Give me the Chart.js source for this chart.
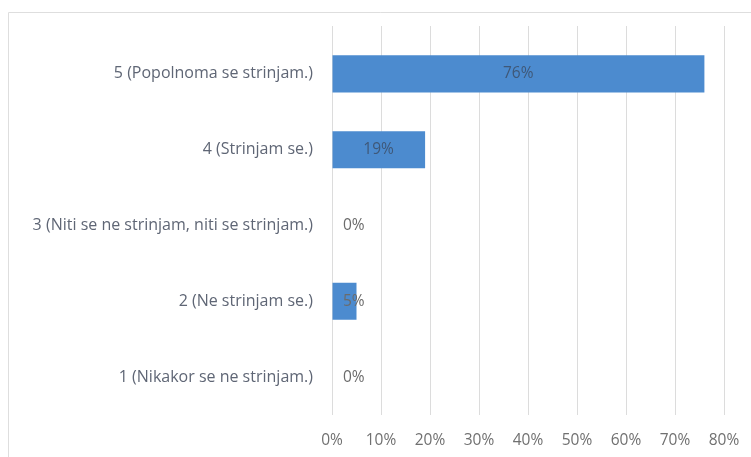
<!DOCTYPE html>
<html>
<head>
<meta charset="utf-8">
<script src="https://cdn.jsdelivr.net/npm/chart.js@4/dist/chart.umd.min.js"></script>
<style>
  html, body { margin: 0; padding: 0; background: #ffffff; }
  #wrap { width: 751px; height: 457px; position: relative; }
</style>
</head>
<body>
<div id="wrap"><canvas id="c" width="751" height="457"></canvas></div>
<script>
// Survey answers (top to bottom) and their share of responses, in percent
const categories = [
  '5 (Popolnoma se strinjam.)',
  '4 (Strinjam se.)',
  '3 (Niti se ne strinjam, niti se strinjam.)',
  '2 (Ne strinjam se.)',
  '1 (Nikakor se ne strinjam.)'
];
const shares = [76, 19, 0, 5, 0];
const axisMax = 80;
const axisStep = 10;

const FONT = '"Open Sans", "Noto Sans", sans-serif';
const GRID = '#dcdcdc';

// Light frame around the chart, plus the grid running a little above the plot
const framePlugin = {
  id: 'frame',
  beforeDraw(chart) {
    const ctx = chart.ctx;
    ctx.save();
    ctx.fillStyle = '#ffffff';
    ctx.fillRect(0, 0, chart.width, chart.height);
    ctx.strokeStyle = '#dedede';
    ctx.lineWidth = 1;
    ctx.beginPath();
    ctx.moveTo(8.5, chart.height + 2);
    ctx.lineTo(8.5, 12.5);
    ctx.lineTo(chart.width + 2, 12.5);
    ctx.stroke();
    ctx.restore();
  },
  beforeDatasetsDraw(chart) {
    const ctx = chart.ctx;
    const xs = chart.scales.x;
    const top = chart.chartArea.top;
    ctx.save();
    ctx.strokeStyle = GRID;
    ctx.lineWidth = 1;
    xs.ticks.forEach(t => {
      const x = Math.round(xs.getPixelForValue(t.value)) + 0.5;
      ctx.beginPath();
      ctx.moveTo(x, top - 10);
      ctx.lineTo(x, top);
      ctx.stroke();
    });
    ctx.restore();
  }
};

// Value labels: centred inside wide bars, just past the axis for narrow ones
const valueLabels = {
  id: 'valueLabels',
  afterDatasetsDraw(chart) {
    const ctx = chart.ctx;
    const meta = chart.getDatasetMeta(0);
    const xScale = chart.scales.x;
    ctx.save();
    ctx.font = '15.5px ' + FONT;
    ctx.textBaseline = 'middle';
    meta.data.forEach((bar, i) => {
      const v = shares[i];
      const text = v + '%';
      const w = ctx.measureText(text).width;
      const x0 = xScale.getPixelForValue(0);
      const barW = bar.x - x0;
      if (barW > w + 10) {
        ctx.fillStyle = '#3f5878';
        ctx.textAlign = 'center';
        ctx.fillText(text, (bar.x + x0) / 2, bar.y);
      } else {
        ctx.fillStyle = '#6b6b6b';
        ctx.textAlign = 'left';
        ctx.fillText(text, x0 + 11, bar.y);
      }
    });
    ctx.restore();
  }
};

new Chart(document.getElementById('c'), {
  type: 'bar',
  data: {
    labels: categories,
    datasets: [{
      data: shares,
      backgroundColor: '#4c8bcf',
      borderWidth: 0,
      barPercentage: 0.49,
      categoryPercentage: 1.0
    }]
  },
  options: {
    indexAxis: 'y',
    responsive: false,
    animation: false,
    devicePixelRatio: 1,
    layout: { padding: { top: 36, right: 27, bottom: 0, left: 0 } },
    plugins: {
      legend: { display: false },
      tooltip: { enabled: false }
    },
    scales: {
      x: {
        min: 0,
        max: axisMax,
        ticks: {
          stepSize: axisStep,
          color: '#707070',
          font: { family: FONT, size: 15.5 },
          padding: 16,
          callback: v => v + '%'
        },
        grid: {
          color: GRID,
          lineWidth: 1,
          drawTicks: false
        },
        border: { display: false },
        afterFit(scale) {
          scale.height = 42;
          scale.paddingLeft = 0;
          scale.paddingRight = 0;
        }
      },
      y: {
        ticks: {
          color: '#5f6675',
          font: { family: FONT, size: 16 },
          padding: 19
        },
        grid: { display: false, drawTicks: false },
        border: { display: false },
        afterFit(scale) { scale.width = 332; }
      }
    }
  },
  plugins: [framePlugin, valueLabels]
});
</script>
</body>
</html>
